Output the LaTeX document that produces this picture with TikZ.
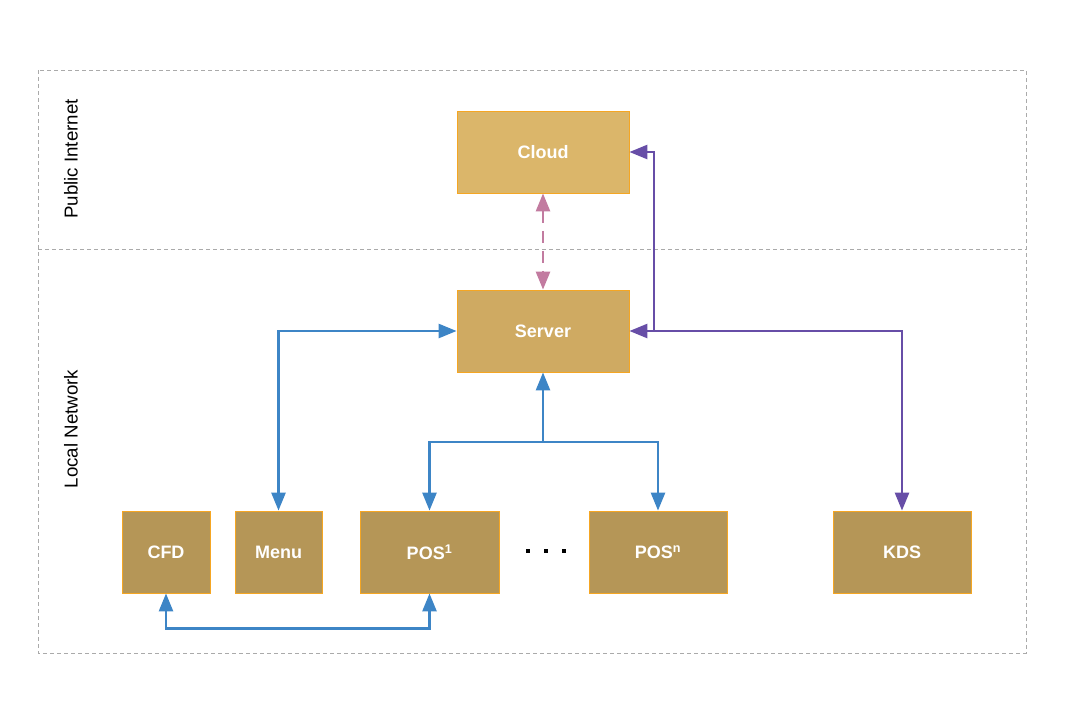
\documentclass[tikz,border=0pt]{standalone}
\usepackage{fontspec}
\setmainfont{Liberation Sans}
\usetikzlibrary{arrows.meta}
\definecolor{cloudfill}{RGB}{219,182,106}
\definecolor{serverfill}{RGB}{207,170,98}
\definecolor{devfill}{RGB}{181,150,87}
\definecolor{boxedge}{RGB}{245,166,35}
\definecolor{lnblue}{RGB}{61,133,198}
\definecolor{lnpurple}{RGB}{103,78,167}
\definecolor{lnpink}{RGB}{194,123,160}
\definecolor{framegray}{RGB}{170,170,170}
\tikzset{
  box/.style={draw=boxedge, line width=0.8pt, inner sep=0pt, minimum height=82pt,
    text=white, font=\fontsize{18}{20}\selectfont\bfseries},
  zonelabel/.style={rotate=90, font=\fontsize{18.7}{20}\selectfont, inner sep=0pt},
  link/.style={line width=2.6pt, {Triangle[length=18pt,width=14pt]}-{Triangle[length=18pt,width=14pt]}},
  linkend/.style={line width=2.6pt, -{Triangle[length=18pt,width=14pt]}},
  frame/.style={draw=framegray, line width=0.8pt, dash pattern=on 4pt off 3pt},
}
\begin{document}
\begin{tikzpicture}[x=1pt,y=-1pt]
\useasboundingbox (0,0) rectangle (1065,713);
% zones
\draw[frame] (38,70) rectangle (1026,653);
\draw[frame] (38,249) -- (1026,249);
\node[zonelabel] (pub) at (71,159) {Public Internet};
\node[zonelabel] (loc) at (71,429) {Local Network};
% boxes
\node[box, fill=cloudfill, minimum width=172pt] (cloud) at (543,152) {Cloud};
\node[box, fill=serverfill, minimum width=172pt] (server) at (543,331) {Server};
\node[box, fill=devfill, minimum width=88pt] (cfd) at (166,552) {CFD};
\node[box, fill=devfill, minimum width=87pt] (menu) at (278.5,552) {Menu};
\node[box, fill=devfill, minimum width=139pt] (pos1) at (429.5,552) {POS\textsuperscript{1}};
\node[box, fill=devfill, minimum width=138pt] (posn) at (658,552) {POS\textsuperscript{n}};
\node[box, fill=devfill, minimum width=138pt] (kds) at (902,552) {KDS};
% dots
\foreach \i/\x in {1/528,2/546,3/564}
  \fill (\x-2,549) rectangle (\x+2,553);
% connectors
\draw[link, lnpink, dash pattern=on 12pt off 8pt] (cloud.south) -- (server.north);
\draw[link, lnpurple] (kds.north) |- (server.east);
\coordinate (pj) at (654,331);
\draw[linkend, lnpurple] (pj) |- (cloud.east);
\draw[link, lnblue] (server.west) -| (menu.north);
\coordinate (bj) at (543,442);
\draw[line width=2.6pt, lnblue, {Triangle[length=18pt,width=14pt]}-] (server.south) -- (bj);
\draw[linkend, lnblue] (bj) -| (pos1.north);
\draw[linkend, lnblue] (bj) -| (posn.north);
\draw[link, lnblue] (cfd.south) -- ++(0,35) -| (pos1.south);
\end{tikzpicture}
\end{document}
